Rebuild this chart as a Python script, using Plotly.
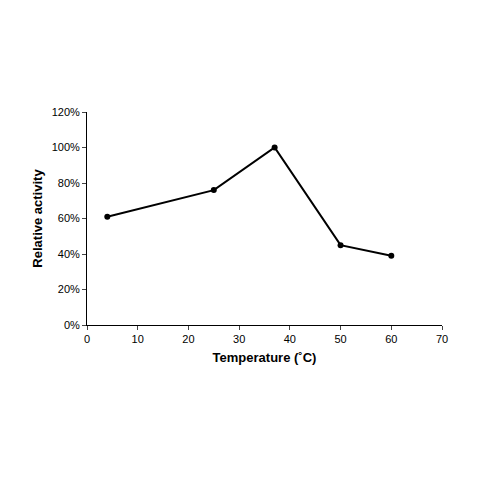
import plotly.graph_objects as go

temps = [4, 25, 37, 50, 60]
activity = [0.61, 0.76, 1.00, 0.45, 0.39]
yticks = [0, 0.2, 0.4, 0.6, 0.8, 1.0, 1.2]

fig = go.Figure(go.Scatter(x=temps, y=activity, mode="lines+markers",
    line=dict(color="black", width=2), marker=dict(color="black", size=6)))
fig.update_layout(width=480, height=480, paper_bgcolor="white", plot_bgcolor="white",
    margin=dict(l=79, r=46, t=104, b=163), showlegend=False,
    font=dict(family="Liberation Sans, Arial", size=11, color="black"))
fig.update_xaxes(range=[0, 70], dtick=10, showline=True, linecolor="black", linewidth=1,
    ticks="outside", ticklen=4, showgrid=False, zeroline=False, tickfont=dict(color="black"),
    title=dict(text="<b>Temperature (˚C)</b>", standoff=8))
fig.update_yaxes(range=[0, 1.2], tickvals=yticks, tickformat=".0%", showline=True,
    linecolor="black", linewidth=1, ticks="outside", ticklen=4, showgrid=False,
    zeroline=False, tickfont=dict(color="black"),
    title=dict(text="<b>Relative activity</b>", standoff=6))
fig.write_html("out.html")
